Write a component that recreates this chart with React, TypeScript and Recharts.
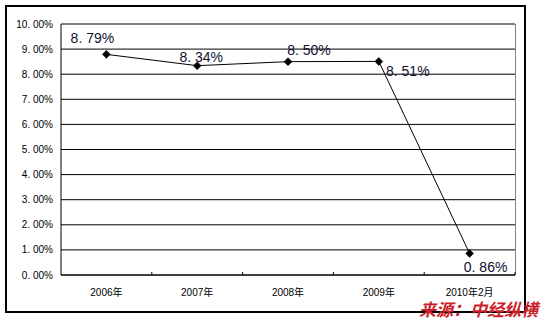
import React from 'react';
import { LineChart, Line, XAxis, YAxis, CartesianGrid, ReferenceLine, LabelList } from 'recharts';

const years = ['2006年', '2007年', '2008年', '2009年', '2010年2月'];
const rates = [8.79, 8.34, 8.5, 8.51, 0.86];
const yTicks = [0, 1, 2, 3, 4, 5, 6, 7, 8, 9, 10];
const sourceText = '来源：中经纵横';

const data = years.map((year, i) => ({ year, rate: rates[i] }));

// label placement relative to each point (style, not data)
const labelOffsets = [
  { dx: -14, dy: -11 },
  { dx: 4, dy: -4 },
  { dx: 21, dy: -7 },
  { dx: 29, dy: 15 },
  { dx: 16, dy: 19 },
];

const W = 544;
const H = 319;
const PLOT_LEFT = 61;
const PLOT_RIGHT = 515;
const PLOT_TOP = 24;
const PLOT_BOTTOM = 275;
const BAND = (PLOT_RIGHT - PLOT_LEFT) / years.length;

const fmtPct = (v: number) => `${v.toFixed(2).replace('.', '. ')}%`;

const Diamond = (props: any) => {
  const { cx, cy } = props;
  if (cx == null || cy == null) return null;
  const r = 4;
  return (
    <polygon
      points={`${cx},${cy - r} ${cx + r},${cy} ${cx},${cy + r} ${cx - r},${cy}`}
      fill="#000"
      stroke="#000"
      strokeWidth={0.5}
    />
  );
};

const XTick = (props: any) => {
  const { x, y, payload } = props;
  return (
    <g>
      <line x1={x + BAND / 2} y1={y} x2={x + BAND / 2} y2={y - 3} stroke="#000" strokeWidth={1} />
      <text
        x={x}
        y={y + 21}
        textAnchor="middle"
        fontSize={10}
        fontFamily="'Liberation Sans', 'Noto Sans CJK SC', sans-serif"
        fill="#000"
      >
        {payload.value}
      </text>
    </g>
  );
};

const renderLabel = (props: any) => {
  const { x, y, value, index } = props;
  const off = labelOffsets[index] || { dx: 0, dy: 0 };
  return (
    <text
      x={x + off.dx}
      y={y + off.dy}
      textAnchor="middle"
      fontSize={14}
      fontFamily="'Liberation Sans', sans-serif"
      fill="#101030"
    >
      {fmtPct(Number(value))}
    </text>
  );
};

export default function App() {
  return (
    <div style={{ position: 'absolute', left: 0, top: 0, width: W, height: H, background: '#fff' }}>
      <div
        style={{
          position: 'absolute',
          left: 5,
          top: 5,
          width: 517,
          height: 304,
          border: '2px solid #000',
        }}
      />
      <div
        style={{
          position: 'absolute',
          left: PLOT_RIGHT,
          top: PLOT_TOP,
          width: 1,
          height: PLOT_BOTTOM - PLOT_TOP,
          background: '#808080',
        }}
      />
      <div style={{ position: 'absolute', left: 0, top: 0 }}>
        <LineChart
          width={W}
          height={H}
          data={data}
          margin={{ top: PLOT_TOP, right: W - PLOT_RIGHT, bottom: 14, left: 0 }}
        >
          <CartesianGrid vertical={false} stroke="#000" strokeWidth={1} />
          <ReferenceLine y={10} stroke="#808080" strokeWidth={1} />
          <XAxis
            dataKey="year"
            height={H - 14 - PLOT_BOTTOM}
            padding={{ left: BAND / 2, right: BAND / 2 }}
            axisLine={{ stroke: '#000', strokeWidth: 1 }}
            tickLine={false}
            tickSize={0}
            tickMargin={0}
            interval={0}
            tick={<XTick />}
          />
          <YAxis
            width={PLOT_LEFT}
            domain={[0, 10]}
            ticks={yTicks}
            interval={0}
            axisLine={{ stroke: '#000', strokeWidth: 1 }}
            tickLine={false}
            tickSize={0}
            tickMargin={8}
            tickFormatter={fmtPct}
            tick={{ fontSize: 10, fill: '#000', fontFamily: "'Liberation Sans', sans-serif" }}
          />
          <Line
            type="linear"
            dataKey="rate"
            stroke="#000"
            strokeWidth={1}
            dot={<Diamond />}
            activeDot={false}
            isAnimationActive={false}
          >
            <LabelList dataKey="rate" content={renderLabel} />
          </Line>
        </LineChart>
      </div>
      <div
        style={{
          position: 'absolute',
          left: 419,
          top: 300,
          fontFamily: "'Noto Sans CJK SC', sans-serif",
          fontSize: 17,
          lineHeight: '18px',
          fontWeight: 'bold',
          fontStyle: 'italic',
          color: '#cc1f2b',
          whiteSpace: 'nowrap',
        }}
      >
        {sourceText}
      </div>
    </div>
  );
}
